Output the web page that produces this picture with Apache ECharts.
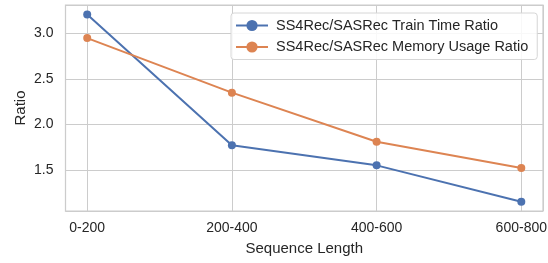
<!DOCTYPE html>
<html>
<head>
<meta charset="utf-8">
<script src="https://cdn.jsdelivr.net/npm/echarts@6/dist/echarts.min.js"></script>
<style>
  html, body { margin: 0; padding: 0; background: #fff; }
  #chart { width: 548px; height: 263px; }
</style>
</head>
<body>
<div id="chart"></div>
<script>
// sequence length buckets on the x axis
var categories = ["0-200", "200-400", "400-600", "600-800"];
var trainTimeRatio = [3.21, 1.77, 1.55, 1.15];
var memoryUsageRatio = [2.95, 2.35, 1.81, 1.52];
var yTicks = [1.5, 2.0, 2.5, 3.0];

var font = "Liberation Sans, Arial, sans-serif";
var textColor = "#262626";

window.onload = function() {
  var myChart = echarts.init(document.getElementById("chart"));

  var toPoints = function(arr) {
    return arr.map(function(v, i) { return [i, v]; });
  };

  var option = {
    animation: false,
    backgroundColor: "#fff",
    grid: {
      left: 65.5, right: 5, top: 5, bottom: 52,
      show: true, borderColor: "#cccccc", borderWidth: 1.25,
      outerBoundsMode: "none"
    },
    legend: {
      orient: "vertical",
      left: 231, top: 13,
      padding: [5, 9, 5, 4],
      itemGap: 6.5,
      itemWidth: 32, itemHeight: 14,
      backgroundColor: "rgba(255,255,255,0.85)",
      borderColor: "#d6d6d6", borderWidth: 1, borderRadius: 3,
      textStyle: { fontFamily: font, fontSize: 14.5, color: textColor, padding: [0, 0, 0, 3] }
    },
    xAxis: {
      type: "value",
      min: -0.15, max: 3.15,
      minInterval: 1, maxInterval: 1,
      name: "Sequence Length",
      nameLocation: "middle", nameGap: 30,
      nameMoveOverlap: false,
      nameTextStyle: { fontFamily: font, fontSize: 15, color: textColor },
      axisLine: { show: false },
      axisTick: { show: false },
      axisLabel: {
        showMinLabel: false, showMaxLabel: false,
        margin: 10,
        fontFamily: font, fontSize: 14, color: textColor,
        formatter: function(v) { return categories[v] || ""; }
      },
      splitLine: { show: true, lineStyle: { color: "#cccccc", width: 1 } }
    },
    yAxis: {
      type: "value",
      min: 1.048, max: 3.314,
      splitNumber: 4,
      name: "Ratio",
      nameLocation: "middle", nameGap: 37,
      nameMoveOverlap: false,
      nameTextStyle: { fontFamily: font, fontSize: 15, color: textColor },
      axisLine: { show: false },
      axisTick: { show: false },
      axisLabel: {
        showMinLabel: false, showMaxLabel: false,
        margin: 12,
        fontFamily: font, fontSize: 14, color: textColor,
        formatter: function(v) {
          return yTicks.indexOf(Math.round(v * 10) / 10) >= 0 ? v.toFixed(1) : "";
        }
      },
      splitLine: { show: true, lineStyle: { color: "#cccccc", width: 1 } }
    },
    series: [
      {
        name: "SS4Rec/SASRec Train Time Ratio",
        type: "line",
        data: toPoints(trainTimeRatio),
        symbol: "circle", symbolSize: 8,
        color: "#4c72b0",
        lineStyle: { width: 2 }
      },
      {
        name: "SS4Rec/SASRec Memory Usage Ratio",
        type: "line",
        data: toPoints(memoryUsageRatio),
        symbol: "circle", symbolSize: 8,
        color: "#dd8452",
        lineStyle: { width: 2 }
      }
    ]
  };

  myChart.setOption(option);
};
</script>
</body>
</html>
